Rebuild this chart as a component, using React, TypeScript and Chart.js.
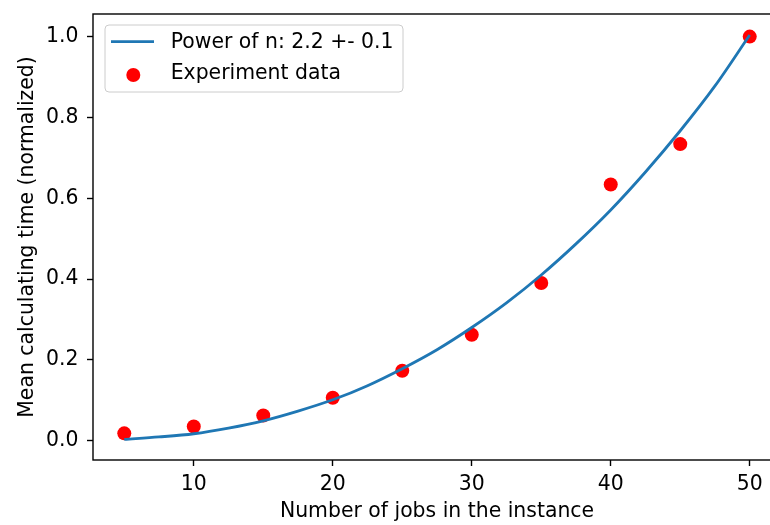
import React, { useEffect, useRef } from "react";
import { Chart, registerables } from "chart.js";

Chart.register(...registerables);

const jobs = [5, 10, 15, 20, 25, 30, 35, 40, 45, 50];
const experimentTime = [0.018, 0.035, 0.062, 0.106, 0.173, 0.262, 0.39, 0.634, 0.734, 1.0];

const fitJobs = [5, 7.5, 10, 12.5, 15, 17.5, 20, 22.5, 25, 27.5, 30, 32.5, 35, 37.5, 40, 42.5, 45, 47.5, 50];
const fitTime = [0.003, 0.009, 0.017, 0.031, 0.049, 0.073, 0.101, 0.136, 0.178, 0.225, 0.28, 0.341, 0.41, 0.487, 0.571, 0.665, 0.767, 0.878, 1.004];

const xTicks = [10, 20, 30, 40, 50];
const yTicks = [0.0, 0.2, 0.4, 0.6, 0.8, 1.0];

const fitLabel = "Power of n: 2.2 +- 0.1";
const dataLabel = "Experiment data";
const xTitle = "Number of jobs in the instance";
const yTitle = "Mean calculating time (normalized)";

const FONT = "'DejaVu Sans', sans-serif";
const FS = 20.4;
const BLUE = "#1f77b4";
const RED = "#ff0000";

const spinesPlugin = {
  id: "spines",
  afterDatasetsDraw(chart: any) {
    const { ctx, chartArea } = chart;
    ctx.save();
    ctx.strokeStyle = "#000";
    ctx.lineWidth = 1.4;
    ctx.strokeRect(chartArea.left, chartArea.top, chartArea.right - chartArea.left, chartArea.bottom - chartArea.top);
    ctx.restore();
  },
};

const legendPlugin = {
  id: "mplLegend",
  afterDraw(chart: any) {
    const { ctx, chartArea } = chart;
    const ds = chart.data.datasets;
    const x0 = chartArea.left + 12;
    const y0 = chartArea.top + 11;
    const w = 298;
    const h = 67;
    const r = 4;
    ctx.save();
    ctx.beginPath();
    ctx.moveTo(x0 + r, y0);
    ctx.lineTo(x0 + w - r, y0);
    ctx.arcTo(x0 + w, y0, x0 + w, y0 + r, r);
    ctx.lineTo(x0 + w, y0 + h - r);
    ctx.arcTo(x0 + w, y0 + h, x0 + w - r, y0 + h, r);
    ctx.lineTo(x0 + r, y0 + h);
    ctx.arcTo(x0, y0 + h, x0, y0 + h - r, r);
    ctx.lineTo(x0, y0 + r);
    ctx.arcTo(x0, y0, x0 + r, y0, r);
    ctx.closePath();
    ctx.fillStyle = "rgba(255,255,255,0.8)";
    ctx.fill();
    ctx.strokeStyle = "#cccccc";
    ctx.lineWidth = 1;
    ctx.stroke();

    ctx.strokeStyle = ds[0].borderColor;
    ctx.lineWidth = 2.8;
    ctx.beginPath();
    ctx.moveTo(x0 + 6, y0 + 16.7);
    ctx.lineTo(x0 + 49, y0 + 16.7);
    ctx.stroke();

    ctx.fillStyle = ds[1].backgroundColor;
    ctx.beginPath();
    ctx.arc(x0 + 28.3, y0 + 50, 7, 0, Math.PI * 2);
    ctx.fill();

    ctx.fillStyle = "#000";
    ctx.font = `${FS}px ${FONT}`;
    ctx.textAlign = "left";
    ctx.textBaseline = "alphabetic";
    ctx.fillText(ds[0].label, x0 + 65.7, y0 + 23);
    ctx.fillText(ds[1].label, x0 + 65.7, y0 + 54);
    ctx.restore();
  },
};

export default function App() {
  const canvasRef = useRef<HTMLCanvasElement | null>(null);

  useEffect(() => {
    const canvas = canvasRef.current;
    if (!canvas) return;
    Chart.defaults.color = "#000";
    Chart.defaults.font.family = FONT;
    const chart = new Chart(canvas, {
      type: "scatter",
      data: {
        datasets: [
          {
            type: "line",
            label: fitLabel,
            data: fitJobs.map((x, i) => ({ x, y: fitTime[i] })),
            borderColor: BLUE,
            backgroundColor: BLUE,
            borderWidth: 2.8,
            pointRadius: 0,
            cubicInterpolationMode: "monotone",
            fill: false,
          } as any,
          {
            type: "scatter",
            label: dataLabel,
            data: jobs.map((x, i) => ({ x, y: experimentTime[i] })),
            backgroundColor: RED,
            borderColor: RED,
            borderWidth: 0,
            pointRadius: 7,
          },
        ],
      },
      options: {
        animation: false,
        responsive: false,
        devicePixelRatio: 1,
        layout: { padding: { left: 0, top: 14, right: 19, bottom: 0 } },
        plugins: {
          legend: { display: false },
          tooltip: { enabled: false },
        },
        scales: {
          x: {
            type: "linear",
            min: 2.75,
            max: 52.25,
            afterBuildTicks: (scale: any) => {
              scale.ticks = xTicks.map((v) => ({ value: v }));
            },
            afterFit: (scale: any) => {
              scale.height = 65;
              scale.paddingLeft = 0;
              scale.paddingRight = 0;
            },
            grid: {
              display: true,
              drawOnChartArea: false,
              drawTicks: true,
              tickLength: 6,
              tickWidth: 1.4,
              tickColor: "#000",
            },
            border: { display: false },
            ticks: {
              padding: 6.8,
              maxRotation: 0,
              font: { size: FS, family: FONT },
              color: "#000",
              callback: (v: any) => String(v),
            },
            title: {
              display: true,
              text: xTitle,
              font: { size: FS, family: FONT },
              color: "#000",
              padding: { top: 0, bottom: 1 },
            },
          },
          y: {
            type: "linear",
            min: -0.048,
            max: 1.056,
            afterBuildTicks: (scale: any) => {
              scale.ticks = yTicks.map((v) => ({ value: v }));
            },
            afterFit: (scale: any) => {
              scale.width = 93;
              scale.paddingTop = 0;
              scale.paddingBottom = 0;
            },
            grid: {
              display: true,
              drawOnChartArea: false,
              drawTicks: true,
              tickLength: 6,
              tickWidth: 1.4,
              tickColor: "#000",
            },
            border: { display: false },
            ticks: {
              padding: 8.5,
              font: { size: FS, family: FONT },
              color: "#000",
              callback: (v: any) => Number(v).toFixed(1),
            },
            title: {
              display: true,
              text: yTitle,
              font: { size: FS, family: FONT },
              color: "#000",
              padding: { top: 15, bottom: 0 },
            },
          },
        },
      },
      plugins: [spinesPlugin, legendPlugin],
    });
    return () => chart.destroy();
  }, []);

  return (
    <div
      style={{
        position: "fixed",
        left: 0,
        top: 0,
        width: 800,
        height: 525,
        background: "#fff",
        overflow: "hidden",
      }}
    >
      <canvas ref={canvasRef} width={800} height={525} style={{ width: 800, height: 525, display: "block" }} />
    </div>
  );
}
